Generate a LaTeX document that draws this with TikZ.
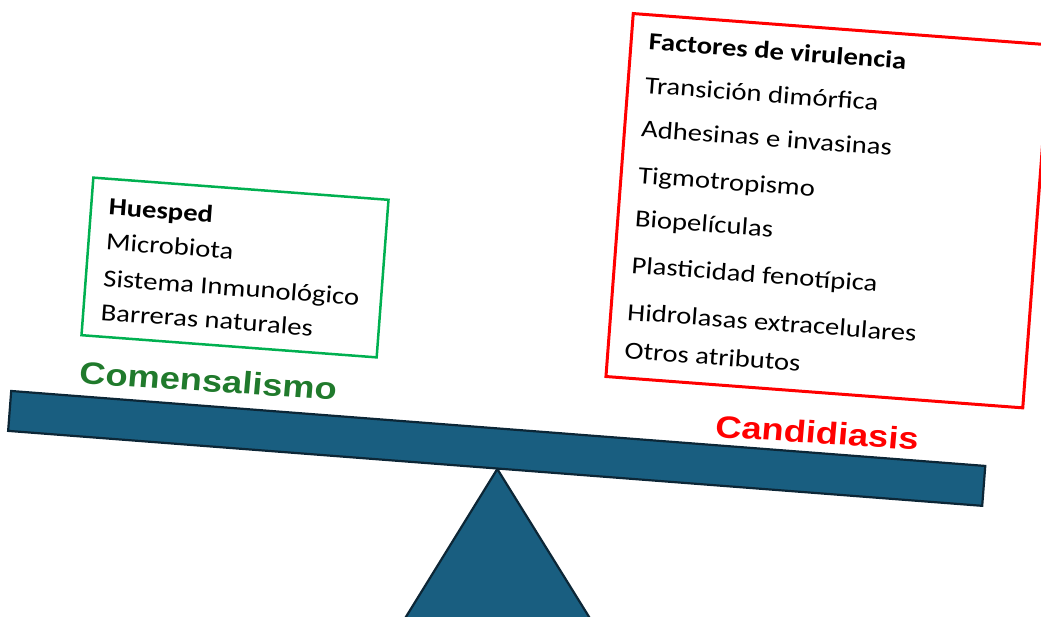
\documentclass[tikz,border=0pt]{standalone}
\usepackage{fontspec}
\setmainfont{Carlito}
\newfontfamily\labfont{Liberation Sans}
\definecolor{beamfill}{RGB}{25,94,128}
\definecolor{beamline}{RGB}{12,38,54}
\definecolor{boxgreen}{RGB}{0,176,80}
\definecolor{labgreen}{RGB}{32,122,44}
\definecolor{boxred}{RGB}{255,0,0}
\tikzset{
  solid shape/.style={fill=beamfill, draw=beamline, line width=2.2pt, line join=miter},
  txt/.style={anchor=base west, inner sep=0pt, xscale=1.17, font=\fontsize{24.5}{29}\selectfont},
  lab/.style={anchor=base west, inner sep=0pt, xscale=1.17, rotate=-4.3, font=\labfont\bfseries\fontsize{31}{36}\selectfont},
  frame/.style={inner sep=0pt, fill=none}
}
\begin{document}
\begin{tikzpicture}[x=1pt,y=-1pt]
\clip (0,0) rectangle (1041,616);
\fill[white] (0,0) rectangle (1041,616);
% fulcrum
\coordinate (apex) at (497.3,469);
\coordinate (fl) at (379.3,660);
\coordinate (fr) at (615.8,660);
\draw[solid shape] (apex) -- (fl) -- (fr) -- cycle;
% beam
\node[solid shape, minimum width=977pt, minimum height=40pt, rotate=-4.4, inner sep=0pt] (beam) at (496.7,448.4) {};
% host box
\begin{scope}[shift={(235,267.5)}, rotate=-4.3, transform shape]
  \node[frame, draw=boxgreen, line width=2.5pt, minimum width=296pt, minimum height=158pt] (hbox) at (0,0) {};
  \node[txt, font=\fontsize{24.5}{29}\selectfont\bfseries] (h0) at (-130.5,-43) {Huesped};
  \node[txt] (h1) at (-130.5,-8) {Microbiota};
  \node[txt] (h2) at (-130.5,28.5) {Sistema Inmunológico};
  \node[txt] (h3) at (-130.5,62.5) {Barreras naturales};
\end{scope}
% virulence box
\begin{scope}[shift={(828,210.7)}, rotate=-4.3, transform shape]
  \node[frame, draw=boxred, line width=3pt, minimum width=418pt, minimum height=364pt] (vbox) at (0,0) {};
  \node[txt, font=\fontsize{24.5}{29}\selectfont\bfseries] (v0) at (-191.5,-146.8) {Factores de virulencia};
  \node[txt] (v1) at (-192,-103.3) {Transición dimórfica};
  \node[txt] (v2) at (-192.5,-59.7) {Adhesinas e invasinas};
  \node[txt] (v3) at (-192,-13.1) {Tigmotropismo};
  \node[txt] (v4) at (-192,30.5) {Biopelículas};
  \node[txt] (v5) at (-192,77.2) {Plasticidad fenotípica};
  \node[txt] (v6) at (-192.5,124.1) {Hidrolasas extracelulares};
  \node[txt] (v7) at (-192.5,162.5) {Otros atributos};
\end{scope}
% labels
\node[lab, text=labgreen] (com) at (78.5,383.5) {Comensalismo};
\node[lab, text=boxred] (can) at (714.5,437) {Candidiasis};
\end{tikzpicture}
\end{document}
